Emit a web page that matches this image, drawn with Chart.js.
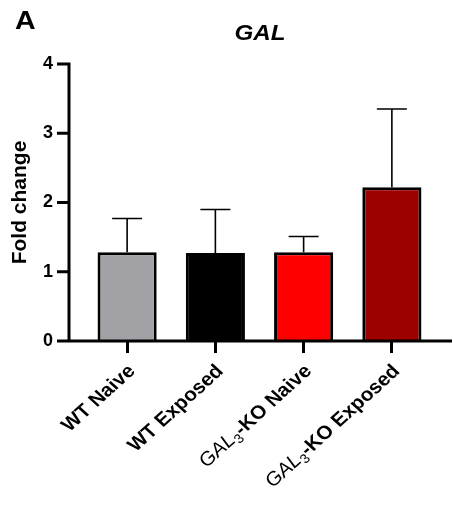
<!DOCTYPE html>
<html lang="en">
<head>
<meta charset="UTF-8">
<title>GAL fold change</title>
<script src="https://cdn.jsdelivr.net/npm/chart.js"></script>
<style>
  body { margin: 0; background: #fff; }
  #wrap { width: 453px; height: 511px; }
</style>
</head>
<body>
<div id="wrap"><canvas id="chart" width="453" height="511"></canvas></div>
<script>
  // values
  const groups = ['WT Naive', 'WT Exposed', 'GAL3-KO Naive', 'GAL3-KO Exposed'];
  const foldChange = [1.28, 1.27, 1.28, 2.22];
  const errUp = [0.49, 0.63, 0.23, 1.13];
  const yTicks = [0, 1, 2, 3, 4];
  const barColors = ['#a2a2a6', '#000000', '#ff0000', '#9e0000'];

  const FONT = '"Liberation Sans", Arial, sans-serif';
  const SX = 1.1; // the source figure is slightly stretched sideways

  // split "GAL3-KO ..." into italic GAL, subscript 3 and bold rest
  function labelParts(g) {
    if (g.startsWith('GAL3')) {
      return [
        { t: 'GAL', f: `italic 19px ${FONT}`, dy: 0 },
        { t: '3', f: `13px ${FONT}`, dy: 4 },
        { t: g.slice(4), f: `bold 19px ${FONT}`, dy: 0 }
      ];
    }
    return [{ t: g, f: `bold 19px ${FONT}`, dy: 0 }];
  }

  const extras = {
    id: 'extras',
    afterDatasetsDraw(chart) {
      const { ctx, scales: { x, y } } = chart;
      ctx.save();
      ctx.strokeStyle = '#000';
      ctx.lineWidth = 1.6;
      foldChange.forEach((v, i) => {
        const cx = x.getPixelForValue(i);
        const yb = y.getPixelForValue(v);
        const yt = y.getPixelForValue(v + errUp[i]);
        ctx.beginPath();
        ctx.moveTo(cx, yb);
        ctx.lineTo(cx, yt);
        ctx.moveTo(cx - 15, yt);
        ctx.lineTo(cx + 15, yt);
        ctx.stroke();
      });
      ctx.restore();
    },
    afterDraw(chart) {
      const { ctx, chartArea, scales: { x, y } } = chart;
      const ax = chartArea.left - 14;
      const y0 = y.getPixelForValue(0);
      ctx.save();
      ctx.strokeStyle = '#000';
      ctx.lineWidth = 3;
      ctx.beginPath();
      ctx.moveTo(ax, y.getPixelForValue(yTicks[yTicks.length - 1]) - 1.5);
      ctx.lineTo(ax, y0);
      ctx.moveTo(ax - 1.5, y0);
      ctx.lineTo(452, y0);
      yTicks.forEach(t => {
        const py = y.getPixelForValue(t);
        ctx.moveTo(ax - 12, py);
        ctx.lineTo(ax, py);
      });
      ctx.stroke();

      // rotated category labels
      ctx.fillStyle = '#000';
      ctx.textBaseline = 'alphabetic';
      ctx.textAlign = 'left';
      groups.forEach((g, i) => {
        const parts = labelParts(g);
        let total = 0;
        parts.forEach(p => { ctx.font = p.f; p.w = ctx.measureText(p.t).width; total += p.w; });
        ctx.save();
        ctx.translate(x.getPixelForValue(i) + 9, y0 + 31);
        ctx.scale(SX, 1);
        ctx.rotate(-Math.PI / 4);
        let px = -total;
        parts.forEach(p => {
          ctx.font = p.f;
          ctx.fillText(p.t, px, p.dy);
          px += p.w;
        });
        ctx.restore();
      });

      // panel letter and title
      ctx.save();
      ctx.scale(SX, 1);
      ctx.font = `bold 26px ${FONT}`;
      ctx.fillText('A', 15 / SX, 29);
      ctx.font = `italic bold 22px ${FONT}`;
      ctx.textAlign = 'center';
      ctx.fillText('GAL', 260 / SX, 40);
      ctx.restore();
      ctx.restore();
    }
  };

  new Chart(document.getElementById('chart'), {
    type: 'bar',
    data: {
      labels: groups,
      datasets: [{
        data: foldChange,
        backgroundColor: barColors,
        borderColor: '#000',
        borderWidth: 3,
        borderSkipped: 'start',
        barPercentage: 0.67,
        categoryPercentage: 1
      }]
    },
    options: {
      responsive: false,
      animation: false,
      layout: { padding: { top: 64, right: 17, bottom: 0, left: 0 } },
      plugins: { legend: { display: false }, tooltip: { enabled: false } },
      scales: {
        x: {
          afterFit: s => { s.height = 170; },
          ticks: { display: false },
          border: { display: false },
          grid: {
            display: true,
            drawOnChartArea: false,
            drawTicks: true,
            offset: false,
            tickLength: 12,
            lineWidth: 3,
            color: '#000'
          }
        },
        y: {
          min: 0,
          max: 4,
          afterFit: s => { s.width = 83; },
          afterBuildTicks: s => { s.ticks = yTicks.map(v => ({ value: v })); },
          border: { display: false },
          grid: { display: false, drawTicks: false },
          ticks: {
            padding: 30,
            color: '#000',
            font: { family: FONT, size: 18, weight: 'bold' }
          },
          title: {
            display: true,
            text: 'Fold change',
            color: '#000',
            padding: { top: 8, bottom: 8 },
            font: { family: FONT, size: 21, weight: 'bold' }
          }
        }
      }
    },
    plugins: [extras]
  });
</script>
</body>
</html>
